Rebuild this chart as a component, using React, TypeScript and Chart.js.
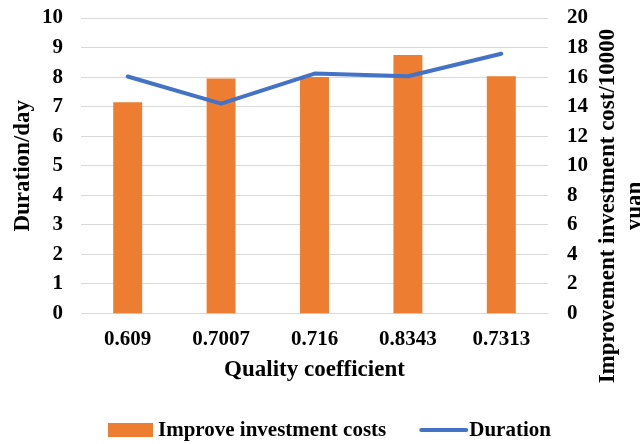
import React, { useEffect, useRef } from "react";
import { Chart, registerables } from "chart.js";

Chart.register(...registerables);

const categories = ["0.609", "0.7007", "0.716", "0.8343", "0.7313"];
const investmentCosts = [14.3, 15.9, 16.0, 17.5, 16.05];
const durationDays = [8.02, 7.1, 8.12, 8.03, 8.79];

const leftTicks = { min: 0, max: 10, step: 1 };
const rightTicks = { min: 0, max: 20, step: 2 };

const FONT = "'Liberation Serif', 'Times New Roman', serif";
const ORANGE = "#ED7D31";
const BLUE = "#4472C4";
const GRID = "#D9D9D9";

const legendItems = [
  { label: "Improve investment costs", kind: "box", color: ORANGE },
  { label: "Duration", kind: "line", color: BLUE },
];

const rightTitleLines = ["Improvement investment cost/10000", "yuan"];

const overlayPlugin = {
  id: "overlayText",
  afterDraw(chart: any) {
    const ctx = chart.ctx;
    ctx.save();
    // right axis title, reading bottom to top
    ctx.font = `bold 23px ${FONT}`;
    ctx.fillStyle = "#000";
    ctx.textAlign = "center";
    ctx.textBaseline = "middle";
    const cy = 206;
    rightTitleLines.forEach((t, i) => {
      ctx.save();
      ctx.translate(608 + i * 27, cy);
      ctx.rotate(-Math.PI / 2);
      ctx.fillText(t, 0, 0);
      ctx.restore();
    });

    // legend
    ctx.font = `bold 21px ${FONT}`;
    ctx.textAlign = "left";
    ctx.textBaseline = "middle";
    const ly = 430;
    let x = 108;
    legendItems.forEach((item) => {
      if (item.kind === "box") {
        ctx.fillStyle = item.color;
        ctx.fillRect(x, ly - 7, 45, 14);
      } else {
        ctx.strokeStyle = item.color;
        ctx.lineWidth = 4;
        ctx.lineCap = "round";
        ctx.beginPath();
        ctx.moveTo(x + 2, ly);
        ctx.lineTo(x + 47, ly);
        ctx.stroke();
      }
      ctx.fillStyle = "#000";
      ctx.fillText(item.label, x + 50, ly + 1);
      x += 50 + ctx.measureText(item.label).width + 33;
    });
    ctx.restore();
  },
};

// fixed axis box widths; vertical label overflow is covered by the layout padding
const fixWidth = (w: number) => (scale: any) => {
  scale.width = w;
  scale.paddingTop = 0;
  scale.paddingBottom = 0;
};

export default function App() {
  const canvasRef = useRef<HTMLCanvasElement | null>(null);

  useEffect(() => {
    if (!canvasRef.current) return;
    const chart = new Chart(canvasRef.current, {
      type: "bar",
      data: {
        labels: categories,
        datasets: [
          {
            type: "line",
            label: "Duration",
            data: durationDays,
            yAxisID: "y",
            borderColor: BLUE,
            backgroundColor: BLUE,
            borderWidth: 4,
            borderCapStyle: "round",
            borderJoinStyle: "round",
            pointRadius: 0,
            tension: 0,
            order: 0,
          } as any,
          {
            type: "bar",
            label: "Improve investment costs",
            data: investmentCosts,
            yAxisID: "y1",
            backgroundColor: ORANGE,
            borderWidth: 0,
            barPercentage: 0.31,
            categoryPercentage: 1,
            order: 1,
          },
        ],
      },
      options: {
        responsive: false,
        animation: false,
        devicePixelRatio: 1,
        layout: { padding: { top: 18, left: 0, right: 0, bottom: 0 } },
        plugins: {
          legend: { display: false },
          tooltip: { enabled: false },
        },
        scales: {
          x: {
            grid: { display: false, drawTicks: false },
            border: { display: false },
            ticks: {
              color: "#000",
              padding: 13,
              autoSkip: false,
              font: { family: FONT, size: 21, weight: "bold" },
            },
            title: {
              display: true,
              text: "Quality coefficient",
              color: "#000",
              font: { family: FONT, size: 23, weight: "bold" },
              padding: { top: 0, bottom: 60 },
            },
            afterFit(scale: any) {
              scale.height = 130.5;
            },
          },
          y: {
            position: "left",
            min: leftTicks.min,
            max: leftTicks.max,
            grid: { color: GRID, lineWidth: 1, drawTicks: false },
            border: { display: false },
            ticks: {
              stepSize: leftTicks.step,
              autoSkip: false,
              color: "#000",
              padding: 18,
              font: { family: FONT, size: 21, weight: "bold" },
            },
            title: {
              display: true,
              text: "Duration/day",
              color: "#000",
              font: { family: FONT, size: 23, weight: "bold" },
              padding: { top: 9, bottom: 0 },
            },
            afterFit: fixWidth(81),
          },
          y1: {
            position: "right",
            min: rightTicks.min,
            max: rightTicks.max,
            grid: { display: false, drawTicks: false },
            border: { display: false },
            ticks: {
              stepSize: rightTicks.step,
              autoSkip: false,
              color: "#000",
              padding: 19,
              font: { family: FONT, size: 21, weight: "bold" },
            },
            afterFit: fixWidth(92),
          },
        },
      },
      plugins: [overlayPlugin],
    });
    return () => chart.destroy();
  }, []);

  return (
    <div style={{ position: "absolute", left: 0, top: 0, width: 640, height: 444, background: "#fff" }}>
      <canvas ref={canvasRef} width={640} height={444} />
    </div>
  );
}
